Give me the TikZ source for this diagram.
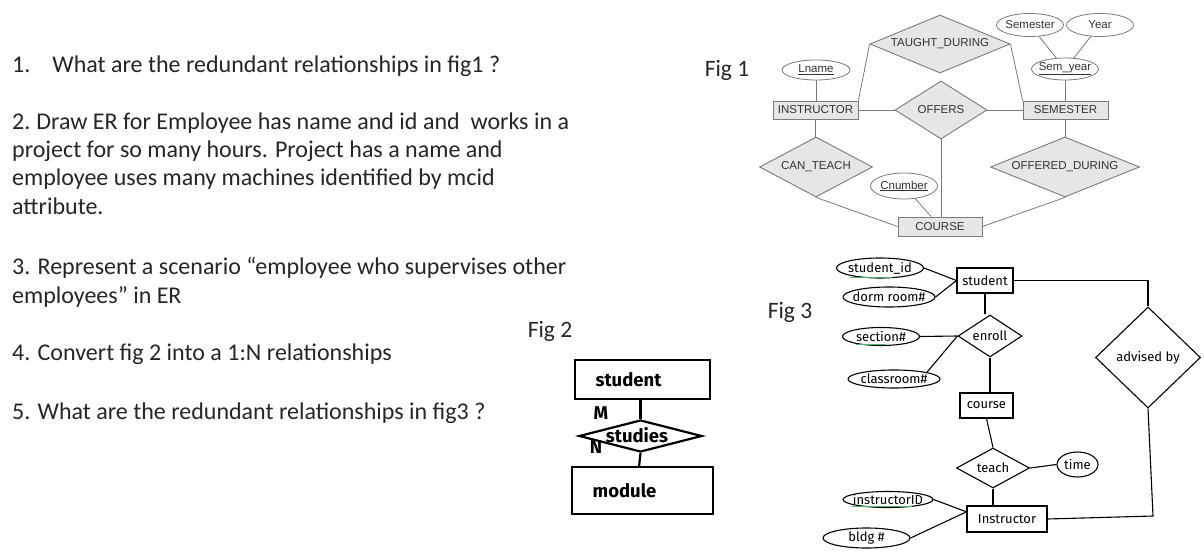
\documentclass[tikz,border=0pt]{standalone}
\usepackage{fontspec}
\setmainfont{Carlito}
\newfontfamily\figone{Liberation Sans}
\newfontfamily\figcomic{Fira Sans}
\usetikzlibrary{shapes.geometric,calc}
\definecolor{erfill}{HTML}{E6E6E6}
\definecolor{erline}{HTML}{7A7A7A}
\definecolor{ertext}{HTML}{333333}
\definecolor{keygreen}{HTML}{4FB36A}
\begin{document}
\begin{tikzpicture}[x=1pt,y=-1pt,
  qtext/.style={anchor=base west, inner sep=0, font=\fontsize{24}{28}\selectfont, text=black!85},
  figlbl/.style={inner sep=0, font=\fontsize{23.5}{28}\selectfont, text=black!85},
  f1font/.style={font=\figone\fontsize{11.5}{12}\selectfont, text=ertext},
  ent1/.style={draw=erline, fill=erfill, line width=0.9pt, rectangle, inner sep=0, f1font},
  rel1/.style={draw=erline, fill=erfill, line width=0.9pt, diamond, inner sep=0,
     label={[f1font]center:#1}},
  att1/.style={draw=erline, fill=white, line width=0.8pt, ellipse, inner sep=0,
     label={[f1font]center:#1}},
  lnk1/.style={draw=erline, line width=0.8pt},
  f3font/.style={font=\figcomic\fontsize{13}{14}\selectfont, text=black},
  ent3/.style={draw=black, fill=white, line width=1.1pt, rectangle, inner sep=0, f3font},
  rel3/.style={draw=black, fill=white, line width=1.1pt, diamond, inner sep=0,
     label={[f3font]center:#1}},
  att3/.style={draw=black, fill=white, line width=1.1pt, ellipse, inner sep=0,
     label={[f3font]center:#1}},
  lnk3/.style={draw=black, line width=1.1pt},
  keyline/.style={draw=keygreen, line width=0.8pt},
  f2font/.style={font=\figcomic\bfseries\fontsize{18.5}{20}\selectfont, text=black},
  ent2/.style={draw=black, fill=white, line width=2.2pt, rectangle, inner sep=0},
  lnk2/.style={draw=black, line width=2.2pt}
]
\useasboundingbox[fill=white] (0,0) rectangle (1204,556);

% ---------------- questions ----------------
\node[qtext] (q1)  at (12,72.5)  {1.\hspace{22pt}What are the redundant relationships in fig1 ?};
\node[qtext] (q2a) at (12,129.5) {2.\hspace{6pt}Draw ER for Employee has name and id and \ works in a};
\node[qtext] (q2b) at (12,157.5) {project for so many hours. Project has a name and};
\node[qtext] (q2c) at (12,185.5) {employee uses many machines identified by mcid};
\node[qtext] (q2d) at (12,214.5) {attribute.};
\node[qtext] (q3a) at (12,274)   {3. Represent a scenario “employee who supervises other};
\node[qtext] (q3b) at (12,303)   {employees” in ER};
\node[qtext] (q4)  at (12,360.5) {4. Convert fig 2 into a 1:N relationships};
\node[qtext] (q5)  at (12,419.5) {5. What are the redundant relationships in fig3 ?};

\node[figlbl] (fig1) at (727,70)  {Fig 1};
\node[figlbl] (fig2) at (550,331) {Fig 2};
\node[figlbl] (fig3) at (790,312) {Fig 3};

% ---------------- Fig 1 ----------------
\node[rel1={TAUGHT\_DURING}, minimum width=140pt, minimum height=58pt] (td) at (940,44) {};
\node[rel1={OFFERS}, minimum width=92pt, minimum height=58pt] (off) at (941,110) {};
\node[rel1={CAN\_TEACH}, minimum width=113pt, minimum height=60pt] (ct) at (816,167) {};
\node[rel1={OFFERED\_DURING}, minimum width=149pt, minimum height=60pt] (od) at (1065,167) {};
\node[ent1, minimum width=85pt, minimum height=18pt] (ins) at (815.5,110) {INSTRUCTOR};
\node[ent1, minimum width=85pt, minimum height=18pt] (sem) at (1065.5,110) {SEMESTER};
\node[ent1, minimum width=84pt, minimum height=19pt] (co) at (940,226.5) {COURSE};
\node[att1={\underline{Lname}}, minimum width=68pt, minimum height=20pt] (ln) at (816,70) {};
\node[att1={Semester}, minimum width=67pt, minimum height=23pt] (smr) at (1030,25) {};
\node[att1={Year}, minimum width=67pt, minimum height=23pt] (yr) at (1100,25) {};
\node[att1={\underline{Sem\_year}}, minimum width=67pt, minimum height=22pt] (sy) at (1065,69) {};
\node[att1={\underline{Cnumber}}, minimum width=67pt, minimum height=26pt] (cn) at (904,186) {};

\draw[lnk1] (ln.south) -- (ln.south |- ins.north);
\draw[lnk1] (ins.north east) -- (td.west);
\draw[lnk1] (td.east) -- (sem.north west);
\draw[lnk1] (ins.east) -- (off.west);
\draw[lnk1] (off.east) -- (sem.west);
\draw[lnk1] (off.south) -- (off.south |- co.north);
\draw[lnk1] (ins.south) -- (ins.south |- ct.north);
\draw[lnk1] (ct.south) -- (co.west);
\draw[lnk1] (sem.south) -- (sem.south |- od.north);
\draw[lnk1] (od.south) -- (co.east);
\draw[lnk1] (cn) -- (co);
\draw[lnk1] (smr) -- (sy);
\draw[lnk1] (yr) -- (sy);
\draw[lnk1] (sy.south) -- (sy.south |- sem.north);

% ---------------- Fig 2 ----------------
\node[ent2, minimum width=135pt, minimum height=39pt,
      label={[f2font, xshift=-14pt]center:student}] (stu2) at (642.5,379.5) {};
\node[ent2, minimum width=141pt, minimum height=47pt,
      label={[f2font, xshift=-18pt]center:module}] (mod2) at (642.5,490.5) {};
\node[draw=black, fill=white, line width=2.2pt, diamond, inner sep=0,
      minimum width=123pt, minimum height=32pt] (std2) at (640.5,436) {};
\node[f2font, inner sep=0] (std2t) at (637,435) {studies};
\node[f2font, inner sep=0] (m2) at (601,413) {M};
\node[f2font, inner sep=0] (n2) at (596,447) {N};
\draw[lnk2] (std2.north) -- (std2.north |- stu2.south);
\draw[lnk2] (std2.south) -- (639,467) coordinate (mt) -- (mt |- mod2.north);

% ---------------- Fig 3 ----------------
\node[ent3, minimum width=56pt, minimum height=25pt] (stu) at (985,280.5) {student};
\node[rel3={enroll}, minimum width=64pt, minimum height=42pt] (enr) at (990,336) {};
\node[ent3, minimum width=53pt, minimum height=25pt] (crs) at (986.5,405.5) {course};
\node[rel3={teach}, minimum width=73pt, minimum height=40pt] (tch) at (993,468) {};
\node[ent3, minimum width=80pt, minimum height=26pt] (ins3) at (1007,519) {Instructor};
\node[rel3={advised by}, minimum width=105pt, minimum height=101pt] (adv) at (1148,357.5) {};
\node[att3={student\_id}, minimum width=87pt, minimum height=20pt] (sid) at (880,268) {};
\node[att3={dorm room\#}, minimum width=92pt, minimum height=20pt] (drm) at (889,297) {};
\node[att3={section\#}, minimum width=77pt, minimum height=18pt] (sec) at (881,336.5) {};
\node[att3={classroom\#}, minimum width=92pt, minimum height=18pt] (cls) at (894,379) {};
\node[att3={time}, minimum width=41pt, minimum height=25pt] (tim) at (1077.5,464.5) {};
\node[att3={instructorID}, minimum width=90pt, minimum height=16pt] (iid) at (888,499.5) {};
\node[att3={bldg \#}, minimum width=87pt, minimum height=20pt] (bld) at (866.5,538) {};

\draw[keyline] ($(sid.center)+(-30,9)$) -- ++(42,0);
\draw[keyline] ($(sec.center)+(-25,8)$) -- ++(30,0);
\draw[keyline] ($(iid.center)+(-36,7)$) -- ++(60,0);

\draw[lnk3] (sid.east) -- (stu.west);
\draw[lnk3] (drm.east) -- (stu.west);
\draw[lnk3] (stu.south) -- (stu.south |- enr.north);
\draw[lnk3] (sec.east) -- (enr.west);
\draw[lnk3] (cls.north east) -- (enr.west);
\draw[lnk3] (enr.south) -- (enr.south |- crs.north);
\draw[lnk3] (crs.south) -- (tch.north);
\draw[lnk3] (tch.east) -- (tim.west);
\draw[lnk3] (tch.south) -- (tch.south |- ins3.north);
\draw[lnk3] (iid.east) -- (ins3.170);
\draw[lnk3] (bld.east) -- (ins3.170);
\draw[lnk3] (stu.east) -| (adv.north);
\coordinate (advc) at (1153,516);
\draw[lnk3] (adv.south) -- (advc) -- (ins3.east);
\end{tikzpicture}
\end{document}
